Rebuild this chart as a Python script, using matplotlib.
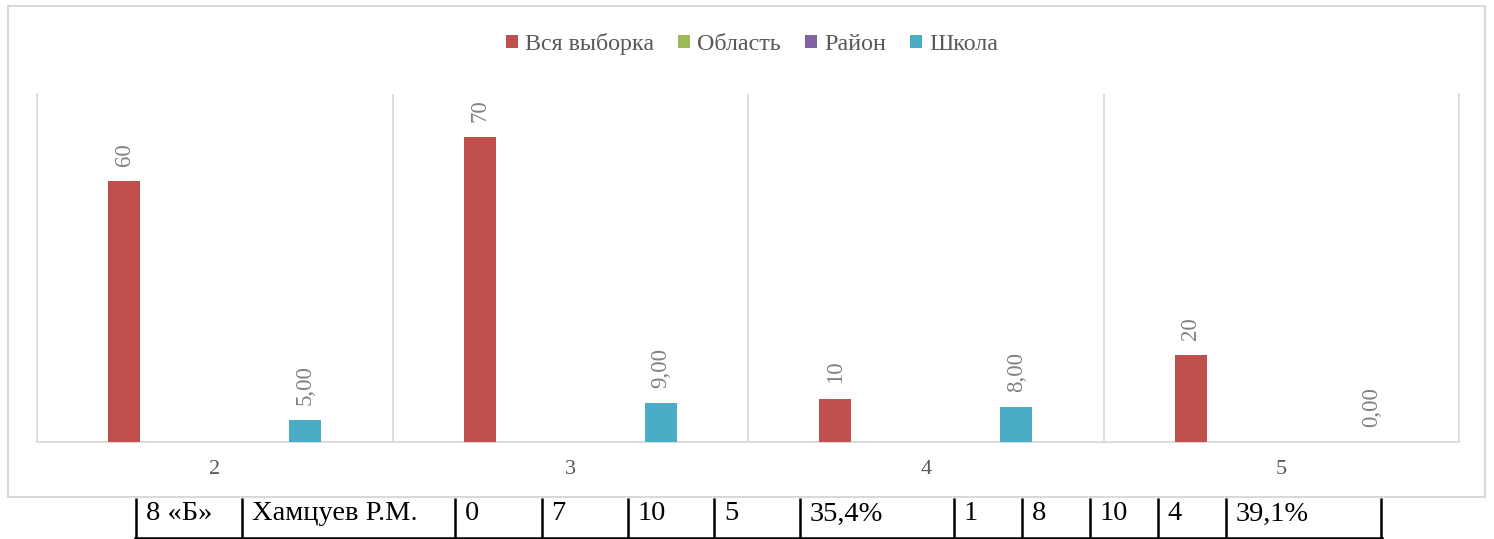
import numpy as np
import matplotlib
matplotlib.use("Agg")
import matplotlib.pyplot as plt
from matplotlib.patches import Rectangle

# ---- data ----
categories = ["2", "3", "4", "5"]
series_names = ["Вся выборка", "Область", "Район", "Школа"]
vsya = [60, 70, 10, 20]
oblast = [None, None, None, None]
raion = [None, None, None, None]
shkola = [5.0, 9.0, 8.0, 0.0]
label_formats = ["{:.0f}", None, None, "{:.2f}"]
colors = ["#C0504D", "#9BBB59", "#8064A2", "#4BACC6"]

table_cells = ["8 «Б»", "Хамцуев Р.М.", "0", "7", "10", "5", "35,4%",
               "1", "8", "10", "4", "39,1%"]

W, H = 1494, 539
fig = plt.figure(figsize=(W / 100, H / 100), dpi=100)
serif = ["Liberation Serif", "DejaVu Serif"]

# overlay axes in pixel coordinates (border + table row)
ov = fig.add_axes([0, 0, 1, 1])
ov.set_xlim(0, W)
ov.set_ylim(H, 0)
ov.axis("off")
ov.add_patch(Rectangle((8, 6), 1477, 491, fill=False, edgecolor="#d9d9d9", lw=1.5))

# table row
col_lines = [135.5, 241.5, 455, 541.5, 628, 714, 800, 954, 1022, 1090, 1158, 1226, 1381]
tab_top, tab_bot = 498, 538
for xl in col_lines:
    ov.plot([xl, xl], [tab_top, tab_bot], color="black", lw=1.8, solid_capstyle="butt")
ov.plot([col_lines[0] - 0.9, col_lines[-1] + 0.9], [tab_bot, tab_bot], color="black", lw=1.8)
for i, txt in enumerate(table_cells):
    ov.text(col_lines[i] + 10, 520.5, txt, fontsize=20.5, family=serif, color="black",
            ha="left", va="baseline")

# chart axes
left, right = 37 / W, 1459 / W
bottom, top = (H - 442) / H, (H - 94) / H
ax = fig.add_axes([left, bottom, right - left, top - bottom])
ax.set_facecolor("none")

x = np.arange(len(categories))
bw = 0.09
step = 0.17
all_series = [vsya, oblast, raion, shkola]
handles = []
for k, (vals, name, col, fmt) in enumerate(zip(all_series, series_names, colors, label_formats)):
    off = (k - 1.5) * step
    v = np.array([np.nan if a is None else a for a in vals], dtype=float)
    bars = ax.bar(x + off, np.nan_to_num(v), width=bw, color=col, label=name, zorder=3)
    handles.append(bars)
    if fmt is not None:
        for xi, val in zip(x + off, v):
            if np.isnan(val):
                continue
            ax.annotate(fmt.format(val).replace(".", ","), (xi, val),
                        xytext=(0, 11), textcoords="offset points",
                        rotation=90, ha="center", va="bottom",
                        fontsize=16.5, family=serif, color="#808080")

ax.set_xlim(-0.5, len(categories) - 0.5)
ax.set_ylim(0, 80)
ax.set_yticks([])
ax.set_xticks(x)
ax.set_xticklabels(categories, fontsize=16, family=serif, color="#595959")
ax.tick_params(axis="x", length=0, pad=13)
ax.set_xticks(np.arange(0.5, len(categories) - 1, 1), minor=True)
ax.tick_params(axis="x", which="minor", length=0)
ax.grid(True, axis="x", which="minor", color="#d9d9d9", lw=1.3)
for s in ["left", "right", "bottom"]:
    ax.spines[s].set_color("#d9d9d9")
    ax.spines[s].set_linewidth(1.3)
ax.spines["top"].set_visible(False)

leg = fig.legend(handles=handles, labels=series_names, loc="center",
                 bbox_to_anchor=(752 / W, 1 - 44 / H), ncol=4, frameon=False,
                 prop={"family": serif, "size": 17.3},
                 handlelength=0.5, handleheight=0.5, handletextpad=0.3,
                 columnspacing=1.0, labelcolor="#595959")

fig.savefig("out.png", dpi=100)
